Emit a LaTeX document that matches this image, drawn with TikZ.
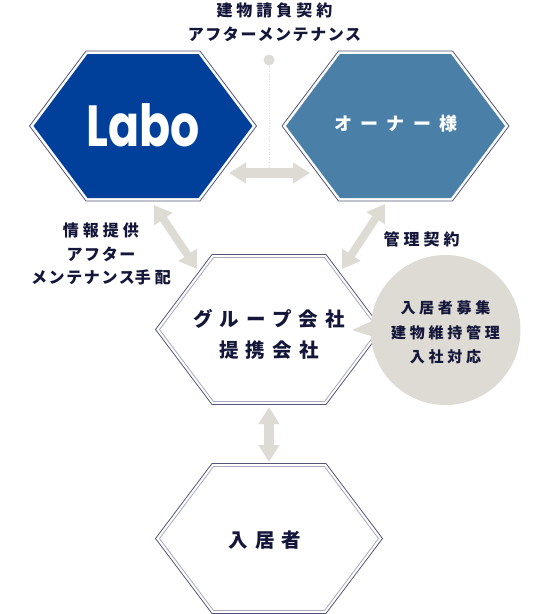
\documentclass[tikz,border=0pt]{standalone}
\usepackage{fontspec}
\setmainfont{Noto Sans CJK JP}
\newfontfamily\jpfont[LetterSpace=25]{Noto Sans CJK JP}
\newfontfamily\jpkana[LetterSpace=10]{Noto Sans CJK JP}
\newfontfamily\jpwide[LetterSpace=37]{Noto Sans CJK JP}
\newfontfamily\jpowner[LetterSpace=45]{Noto Sans CJK JP}
\newfontfamily\logofont{Poppins}
\usepackage{xcolor}
\definecolor{inkc}{HTML}{14163A}
\definecolor{outc}{HTML}{55557A}
\definecolor{inc}{HTML}{A9A9BE}
\definecolor{laboc}{HTML}{00409A}
\definecolor{ownerc}{HTML}{4A80A8}
\definecolor{beigec}{HTML}{DEDBD5}
\usetikzlibrary{arrows.meta,positioning}
\tikzset{
  hexout/.style={draw=outc,line width=0.8pt,line join=miter},
  hexin/.style={draw=inc,line width=0.8pt,line join=miter},
  lbl/.style={font=\jpfont\bfseries\fontsize{16}{23.5}\selectfont,text=inkc,align=center,inner sep=0pt},
  hlbl/.style={font=\jpwide\bfseries\fontsize{19.5}{31}\selectfont,text=inkc,align=center,inner sep=0pt},
  blbl/.style={font=\jpfont\bfseries\fontsize{15}{24.5}\selectfont,text=inkc,align=center,inner sep=0pt},
  wide/.style={<->,>={Triangle[length=17pt,width=20pt]},draw=beigec,fill=beigec,line width=10pt},
  slim/.style={<->,>={Triangle[length=17pt,width=21pt]},draw=beigec,fill=beigec,line width=8pt},
}
% outer line at half size 113.5 x 75, inner one 3 px inside
\newcommand{\hexout}[2][hexout]{\draw[#1,shift={(#2)}] (-113.5,0) -- (-57,-75) -- (57,-75) -- (113.5,0) -- (57,75) -- (-57,75) -- cycle;}
\newcommand{\hexin}[2][hexin]{\draw[#1,shift={(#2)}] (-109.5,0) -- (-55.5,-72) -- (55.5,-72) -- (109.5,0) -- (55.5,72) -- (-55.5,72) -- cycle;}
\begin{document}
\begin{tikzpicture}[x=1pt,y=-1pt]
  \useasboundingbox (0,0) rectangle (538,614);
  % dot and thin line between the two upper hexagons
  \node[circle,fill=beigec,minimum size=11pt,inner sep=0pt] (dot) at (269,60) {};
  \coordinate (lineEnd) at (269,168);
  \draw[beigec,line width=0.6pt,dotted] (dot) -- (lineEnd);
  % hexagons
  \hexout{143,126}
  \fill[laboc,shift={(143,126)}] (-109.5,0) -- (-55.5,-72) -- (55.5,-72) -- (109.5,0) -- (55.5,72) -- (-55.5,72) -- cycle;
  \node[font=\logofont\bfseries\fontsize{58}{58}\selectfont,text=white,inner sep=0pt,anchor=base] (labo) at (143,146) {\scalebox{0.79}[1]{Labo}};
  \hexout{395.5,126}
  \fill[ownerc,shift={(395.5,126)}] (-109.5,0) -- (-55.5,-72) -- (55.5,-72) -- (109.5,0) -- (55.5,72) -- (-55.5,72) -- cycle;
  \node[font=\jpowner\bfseries\fontsize{18}{18}\selectfont,text=white,inner sep=0pt] (owner) at (396,124) {オーナー様};
  \hexout{269,329.5}
  \hexin{269,329.5}
  \node[hlbl] (group) at (269,334) {グループ会社\\提携会社};
  \hexout{269,538.5}
  \hexin{269,538.5}
  \node[hlbl] (resident) at (265,540) {入居者};
  % bubble
  \node[circle,fill=beigec,minimum size=150pt,inner sep=0pt] (bubble) at (445.5,330) {};
  \coordinate (tipB) at (352,330);
  \coordinate (tipT) at (374,320);
  \coordinate (tipU) at (374,337);
  \fill[beigec] (tipB) -- (tipT) -- (tipU) -- cycle;
  \node[blbl] (tasks) at (445.5,332.5) {入居者募集\\建物維持管理\\入社対応};
  % arrows
  \coordinate (hL) at (229,173);
  \coordinate (hR) at (310,173);
  \draw[wide] (hL) -- (hR);
  \coordinate (aL1) at (154,205);
  \coordinate (aL2) at (197,269);
  \draw[slim] (aL1) -- (aL2);
  \coordinate (aR1) at (385,204);
  \coordinate (aR2) at (342,269);
  \draw[slim] (aR1) -- (aR2);
  \coordinate (vT) at (269,407);
  \coordinate (vB) at (269,462);
  \draw[wide] (vT) -- (vB);
  % labels
  \node[lbl] (contract) at (274.5,22.5) {建物請負契約\\{\jpkana アフターメンテナンス}};
  \node[lbl] (info) at (101,254) {情報提供\\{\jpkana アフター}\\{\jpkana メンテナンス}手配};
  \node[lbl] (manage) at (421.5,239) {管理契約};
\end{tikzpicture}
\end{document}
